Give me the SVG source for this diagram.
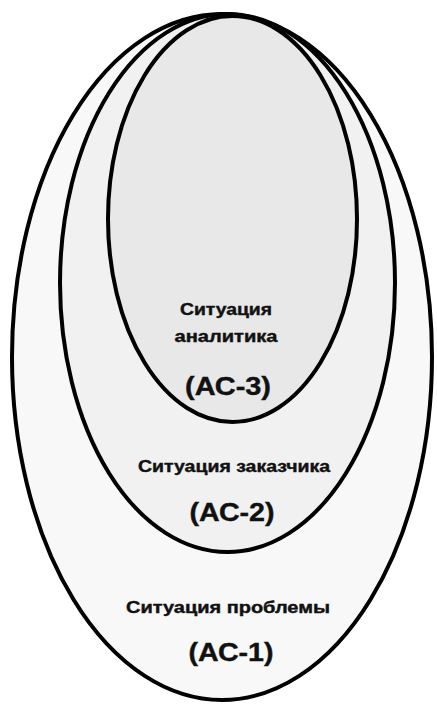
<svg xmlns="http://www.w3.org/2000/svg" width="437" height="704" viewBox="0 0 437 704">
<style>
.e{stroke:#000;stroke-width:4}
.t{font-family:"Liberation Sans",Arial,sans-serif;font-weight:bold;fill:#111;stroke:#111;stroke-width:0.4;text-anchor:middle}
.s{font-size:16px}
.b{font-size:26px}
</style>
<rect width="437" height="704" fill="#fff"/>
<g id="ac1">
<ellipse class="e" cx="222" cy="357" rx="210" ry="343" fill="#f8f8f8"/>
<text class="t s" x="228" y="613" textLength="204" lengthAdjust="spacingAndGlyphs">Ситуация проблемы</text>
<text class="t b" x="231" y="661" textLength="85" lengthAdjust="spacingAndGlyphs">(АС-1)</text>
</g>
<g id="ac2">
<ellipse class="e" cx="227.5" cy="283" rx="167.5" ry="269" fill="#f1f1f1"/>
<text class="t s" x="234" y="472" textLength="192" lengthAdjust="spacingAndGlyphs">Ситуация заказчика</text>
<text class="t b" x="232" y="521" textLength="85" lengthAdjust="spacingAndGlyphs">(АС-2)</text>
</g>
<g id="ac3">
<ellipse class="e" cx="232.5" cy="219" rx="124.5" ry="203" fill="#e8e8e8"/>
<text class="t s" x="226" y="315" textLength="92" lengthAdjust="spacingAndGlyphs">Ситуация</text>
<text class="t s" x="226" y="342" textLength="103" lengthAdjust="spacingAndGlyphs">аналитика</text>
<text class="t b" x="228" y="395" textLength="86" lengthAdjust="spacingAndGlyphs">(АС-3)</text>
</g>
<g id="connectors"/>
</svg>
